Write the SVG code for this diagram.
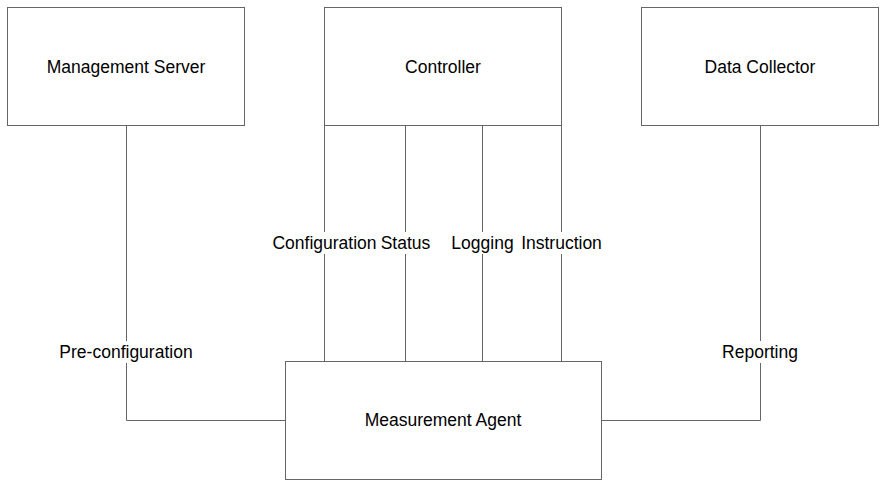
<svg xmlns="http://www.w3.org/2000/svg" width="888" height="488" viewBox="0 0 888 488">
<style>
.box{fill:#fff;stroke:#666;stroke-width:1}
.ln{fill:none;stroke:#666;stroke-width:1}
.t{font-family:"Liberation Sans",Arial,sans-serif;font-size:17.5px;fill:#000;text-anchor:middle;dominant-baseline:central}
.bg{fill:#fff}
</style>
<rect width="888" height="488" fill="#fff"/>
<g id="connectors">
<path class="ln" d="M126.5 125V420.5H285"/>
<path class="ln" d="M760.5 125V420.5H601"/>
<path class="ln" d="M324.5 125V361"/>
<path class="ln" d="M405.5 125V361"/>
<path class="ln" d="M482.5 125V361"/>
<path class="ln" d="M561.5 125V361"/>
<rect class="bg" x="57" y="341" width="138" height="22"/>
<text class="t" x="126" y="352">Pre-configuration</text>
<rect class="bg" x="720" y="341" width="80" height="22"/>
<text class="t" x="760" y="352">Reporting</text>
<rect class="bg" x="270" y="232" width="162" height="22"/>
<text class="t" x="324.5" y="243">Configuration</text>
<text class="t" x="405.5" y="243">Status</text>
<rect class="bg" x="449" y="232" width="68" height="22"/>
<text class="t" x="482.5" y="243">Logging</text>
<rect class="bg" x="520" y="232" width="84" height="22"/>
<text class="t" x="561.5" y="243">Instruction</text>
</g>
<g id="management-server">
<rect class="box" x="7.5" y="7.5" width="237" height="118"/>
<text class="t" x="126" y="66.5">Management Server</text>
</g>
<g id="controller">
<rect class="box" x="324.5" y="7.5" width="237" height="118"/>
<text class="t" x="443" y="66.5">Controller</text>
</g>
<g id="data-collector">
<rect class="box" x="641.5" y="7.5" width="237" height="118"/>
<text class="t" x="760" y="66.5">Data Collector</text>
</g>
<g id="measurement-agent">
<rect class="box" x="285.5" y="361.5" width="316" height="118"/>
<text class="t" x="443" y="420">Measurement Agent</text>
</g>
</svg>
